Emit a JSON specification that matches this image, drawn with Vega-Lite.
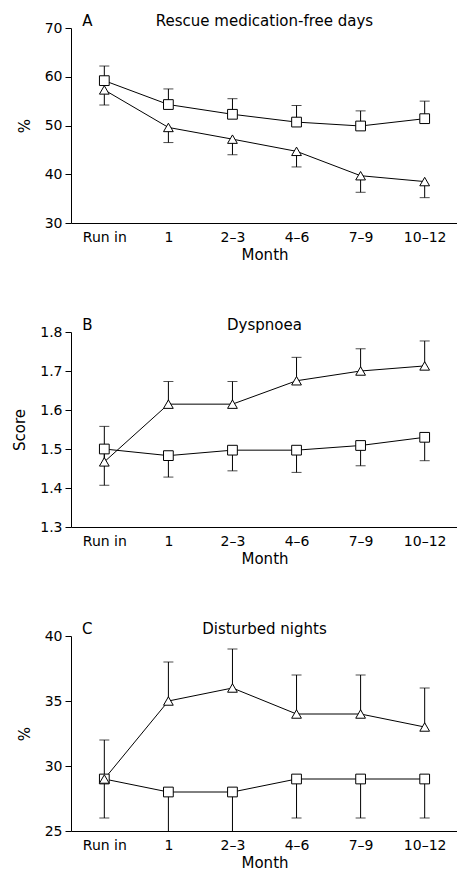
{
  "$schema": "https://vega.github.io/schema/vega-lite/v6.json",
  "padding": {"left": 12, "top": 14, "right": 0, "bottom": 0},
  "spacing": 56,
  "config": {
    "font": "DejaVu Sans",
    "view": {"stroke": null},
    "axis": {"labelFont": "DejaVu Sans", "titleFont": "DejaVu Sans", "labelFontSize": 14, "titleFontSize": 15, "titleFontWeight": "normal", "labelColor": "black", "titleColor": "black", "domainColor": "black", "tickColor": "black", "grid": false},
    "axisX": {"ticks": false, "labelAngle": 0, "labelPadding": 7, "titlePadding": 3},
    "axisY": {"tickSize": 6, "labelPadding": 3, "titlePadding": 12}
  },
  "datasets": {
    "A": [
      {"month": "Run in", "group": "sq", "value": 59.2, "err": 62.2},
      {"month": "1", "group": "sq", "value": 54.3, "err": 57.5},
      {"month": "2–3", "group": "sq", "value": 52.3, "err": 55.5},
      {"month": "4–6", "group": "sq", "value": 50.7, "err": 54.1},
      {"month": "7–9", "group": "sq", "value": 49.9, "err": 53.0},
      {"month": "10–12", "group": "sq", "value": 51.4, "err": 55.0},
      {"month": "Run in", "group": "tri", "value": 57.3, "err": 54.2},
      {"month": "1", "group": "tri", "value": 49.6, "err": 46.5},
      {"month": "2–3", "group": "tri", "value": 47.2, "err": 44.0},
      {"month": "4–6", "group": "tri", "value": 44.7, "err": 41.5},
      {"month": "7–9", "group": "tri", "value": 39.7, "err": 36.3},
      {"month": "10–12", "group": "tri", "value": 38.5, "err": 35.2}
    ],
    "B": [
      {"month": "Run in", "group": "sq", "value": 1.50, "err": 1.407},
      {"month": "1", "group": "sq", "value": 1.483, "err": 1.428},
      {"month": "2–3", "group": "sq", "value": 1.497, "err": 1.444},
      {"month": "4–6", "group": "sq", "value": 1.497, "err": 1.44},
      {"month": "7–9", "group": "sq", "value": 1.509, "err": 1.457},
      {"month": "10–12", "group": "sq", "value": 1.53, "err": 1.47},
      {"month": "Run in", "group": "tri", "value": 1.467, "err": 1.558},
      {"month": "1", "group": "tri", "value": 1.615, "err": 1.673},
      {"month": "2–3", "group": "tri", "value": 1.615, "err": 1.673},
      {"month": "4–6", "group": "tri", "value": 1.675, "err": 1.735},
      {"month": "7–9", "group": "tri", "value": 1.70, "err": 1.757},
      {"month": "10–12", "group": "tri", "value": 1.713, "err": 1.777}
    ],
    "C": [
      {"month": "Run in", "group": "sq", "value": 29, "err": 26},
      {"month": "1", "group": "sq", "value": 28, "err": 25},
      {"month": "2–3", "group": "sq", "value": 28, "err": 25},
      {"month": "4–6", "group": "sq", "value": 29, "err": 26},
      {"month": "7–9", "group": "sq", "value": 29, "err": 26},
      {"month": "10–12", "group": "sq", "value": 29, "err": 26},
      {"month": "Run in", "group": "tri", "value": 29, "err": 32},
      {"month": "1", "group": "tri", "value": 35, "err": 38},
      {"month": "2–3", "group": "tri", "value": 36, "err": 39},
      {"month": "4–6", "group": "tri", "value": 34, "err": 37},
      {"month": "7–9", "group": "tri", "value": 34, "err": 37},
      {"month": "10–12", "group": "tri", "value": 33, "err": 36}
    ]
  },
  "vconcat": [
    {
      "width": 387, "height": 195,
      "data": {"name": "A"},
      "encoding": {
        "x": {"field": "month", "type": "ordinal", "scale": {"type": "point", "padding": 0.52, "domain": ["Run in", "1", "2–3", "4–6", "7–9", "10–12"]}, "title": "Month"},
        "y": {"field": "value", "type": "quantitative", "scale": {"domain": [30, 70]}, "axis": {"values": [30, 40, 50, 60, 70]}, "title": "%"}
      },
      "layer": [
        {"mark": {"type": "rule", "color": "black", "strokeWidth": 1}, "encoding": {"y2": {"field": "err"}}},
        {"mark": {"type": "tick", "orient": "horizontal", "color": "black", "thickness": 1, "size": 10}, "encoding": {"y": {"field": "err", "type": "quantitative"}}},
        {"mark": {"type": "line", "color": "black", "strokeWidth": 1}, "encoding": {"detail": {"field": "group"}}},
        {"mark": {"type": "point", "filled": false, "fill": "white", "fillOpacity": 1, "stroke": "black", "strokeWidth": 1, "size": 95, "opacity": 1}, "encoding": {"shape": {"field": "group", "type": "nominal", "scale": {"domain": ["sq", "tri"], "range": ["square", "triangle-up"]}, "legend": null}}},
        {"data": {"values": [{"t": "A", "m": "Run in", "v": 70}]}, "mark": {"type": "text", "fontSize": 15, "dx": -17, "dy": -7, "align": "center", "color": "black"}, "encoding": {"x": {"field": "m", "type": "ordinal"}, "y": {"field": "v", "type": "quantitative"}, "text": {"field": "t"}}},
        {"data": {"values": [{"t": "Rescue medication-free days", "m": "2–3", "v": 70}]}, "mark": {"type": "text", "fontSize": 15, "dx": 32, "dy": -7, "align": "center", "color": "black"}, "encoding": {"x": {"field": "m", "type": "ordinal"}, "y": {"field": "v", "type": "quantitative"}, "text": {"field": "t"}}}
      ]
    },
    {
      "width": 387, "height": 195,
      "data": {"name": "B"},
      "encoding": {
        "x": {"field": "month", "type": "ordinal", "scale": {"type": "point", "padding": 0.52, "domain": ["Run in", "1", "2–3", "4–6", "7–9", "10–12"]}, "title": "Month"},
        "y": {"field": "value", "type": "quantitative", "scale": {"domain": [1.3, 1.8]}, "axis": {"values": [1.3, 1.4, 1.5, 1.6, 1.7, 1.8], "format": ".1f"}, "title": "Score"}
      },
      "layer": [
        {"mark": {"type": "rule", "color": "black", "strokeWidth": 1}, "encoding": {"y2": {"field": "err"}}},
        {"mark": {"type": "tick", "orient": "horizontal", "color": "black", "thickness": 1, "size": 10}, "encoding": {"y": {"field": "err", "type": "quantitative"}}},
        {"mark": {"type": "line", "color": "black", "strokeWidth": 1}, "encoding": {"detail": {"field": "group"}}},
        {"mark": {"type": "point", "filled": false, "fill": "white", "fillOpacity": 1, "stroke": "black", "strokeWidth": 1, "size": 95, "opacity": 1}, "encoding": {"shape": {"field": "group", "type": "nominal", "scale": {"domain": ["sq", "tri"], "range": ["square", "triangle-up"]}, "legend": null}}},
        {"data": {"values": [{"t": "B", "m": "Run in", "v": 1.8}]}, "mark": {"type": "text", "fontSize": 15, "dx": -17, "dy": -7, "align": "center", "color": "black"}, "encoding": {"x": {"field": "m", "type": "ordinal"}, "y": {"field": "v", "type": "quantitative"}, "text": {"field": "t"}}},
        {"data": {"values": [{"t": "Dyspnoea", "m": "2–3", "v": 1.8}]}, "mark": {"type": "text", "fontSize": 15, "dx": 32, "dy": -7, "align": "center", "color": "black"}, "encoding": {"x": {"field": "m", "type": "ordinal"}, "y": {"field": "v", "type": "quantitative"}, "text": {"field": "t"}}}
      ]
    },
    {
      "width": 387, "height": 195,
      "data": {"name": "C"},
      "encoding": {
        "x": {"field": "month", "type": "ordinal", "scale": {"type": "point", "padding": 0.52, "domain": ["Run in", "1", "2–3", "4–6", "7–9", "10–12"]}, "title": "Month"},
        "y": {"field": "value", "type": "quantitative", "scale": {"domain": [25, 40]}, "axis": {"values": [25, 30, 35, 40]}, "title": "%"}
      },
      "layer": [
        {"mark": {"type": "rule", "color": "black", "strokeWidth": 1}, "encoding": {"y2": {"field": "err"}}},
        {"mark": {"type": "tick", "orient": "horizontal", "color": "black", "thickness": 1, "size": 10}, "transform": [{"filter": "datum.err > 25"}], "encoding": {"y": {"field": "err", "type": "quantitative"}}},
        {"mark": {"type": "line", "color": "black", "strokeWidth": 1}, "encoding": {"detail": {"field": "group"}}},
        {"mark": {"type": "point", "filled": false, "fill": "white", "fillOpacity": 1, "stroke": "black", "strokeWidth": 1, "size": 95, "opacity": 1}, "encoding": {"shape": {"field": "group", "type": "nominal", "scale": {"domain": ["sq", "tri"], "range": ["square", "triangle-up"]}, "legend": null}}},
        {"data": {"values": [{"t": "C", "m": "Run in", "v": 40}]}, "mark": {"type": "text", "fontSize": 15, "dx": -17, "dy": -7, "align": "center", "color": "black"}, "encoding": {"x": {"field": "m", "type": "ordinal"}, "y": {"field": "v", "type": "quantitative"}, "text": {"field": "t"}}},
        {"data": {"values": [{"t": "Disturbed nights", "m": "2–3", "v": 40}]}, "mark": {"type": "text", "fontSize": 15, "dx": 32, "dy": -7, "align": "center", "color": "black"}, "encoding": {"x": {"field": "m", "type": "ordinal"}, "y": {"field": "v", "type": "quantitative"}, "text": {"field": "t"}}}
      ]
    }
  ]
}
